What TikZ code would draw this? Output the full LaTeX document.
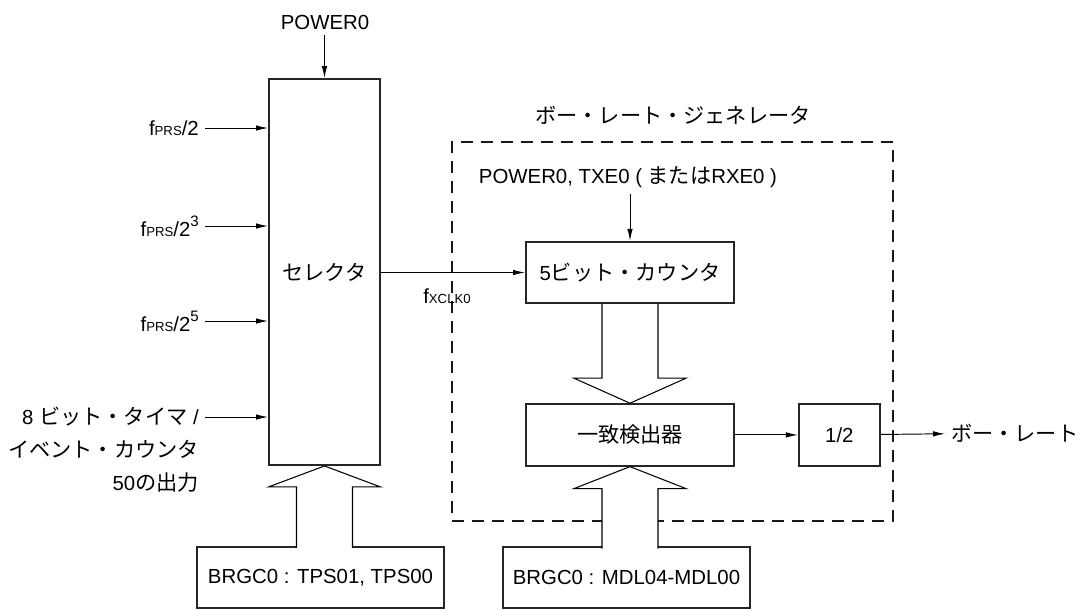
\documentclass[tikz,border=0pt]{standalone}
\usepackage{fontspec}
\setmainfont{Liberation Sans}
\newfontfamily\jp[Scale=1.04]{Noto Sans CJK JP}
\usepackage{tikz}
\usetikzlibrary{positioning,arrows.meta,calc}
\newcommand{\idx}[1]{{\fontsize{7.5}{8}\selectfont #1}}
\newcommand{\pw}[1]{\raisebox{0.5em}{\fontsize{8.6}{9}\selectfont #1}}

\begin{document}
\begin{tikzpicture}[x=0.02cm, y=-0.02cm, >={Latex[length=2.4mm,width=1.1mm]}, every node/.style={font=\fontsize{11.6}{18.8}\selectfont}, s/.style={draw=black!85, line width=1.1pt, inner sep=0pt, minimum height=1.23cm}, a/.style={->, line width=0.55pt}, h/.style={draw=black, line width=0.6pt, fill=white}]
\useasboundingbox (0,0) rectangle (1083,610);
\node[draw=black!90, line width=1.5pt, dash pattern=on 0.24cm off 0.16cm, inner sep=0pt, minimum width=8.82cm, minimum height=7.58cm] (brg) at (672.5,331.5) {};
\node (ttl) at (673,115) {\jp ボー・レート・ジェネレータ};
\node[s, minimum width=2.22cm, minimum height=7.72cm] (sel) at (324.5,272) {\jp セレクタ};
\node[s, minimum width=4.16cm] (cnt) at (630,272.5) {5{\jp ビット・カウンタ}};
\node[s, minimum width=4.16cm, below=1.98cm of cnt] (cmp) {\jp 一致検出器};
\node[s, minimum width=1.62cm, right=1.26cm of cmp] (half) {1/2};
\node[s, minimum width=4.94cm] (tps) at (320.5,577.5) {BRGC0 : TPS01, TPS00};
\node[s, minimum width=4.94cm] (mdl) at (626.5,577.5) {BRGC0 : MDL04-MDL00};
\node (pwr) at (325,22) {POWER0};
\node (en) at (628,177) {POWER0, TXE0 ( {\jp または}RXE0 )};
\node[anchor=east] (p1) at (205,128) {f\idx{PRS}/2};
\node[anchor=east] (p3) at (205,226) {f\idx{PRS}/2\pw{3}};
\node[anchor=east] (p5) at (205,321) {f\idx{PRS}/2\pw{5}};
\node[anchor=east, align=right] (tmr) at (205,450) {8 {\jp ビット・タイマ} /\\{\jp イベント・カウンタ}\\50{\jp の出力}};
\coordinate (tin) at ($(tmr.east)+(0,-33)$);
\node (fx) at (447,296) {f\idx{XCLK0}};
\node[anchor=west] (out) at (945,433) {\jp ボー・レート};
% signal lines
\draw[a] (pwr.south -| sel.north) -- (sel.north);
\draw[a] (p1) -- (p1 -| sel.west); \draw[a] (p3) -- (p3 -| sel.west); \draw[a] (p5) -- (p5 -| sel.west); \draw[a] (tin) -- (tin -| sel.west);
\draw[a] (sel.east |- cnt) -- (cnt); \draw[a] (en.south -| cnt.north) -- (cnt.north);
\draw[a] (cmp) -- (half); \draw[a] (half) -- (out);
% wide arrows
\draw[h] ($(sel.south)+(-28,82)$) -- ++(0,-61) -- ++(-28,0) -- (sel.south) -- ++(56,21) -- ++(-28,0) -- ++(0,61);
\draw[h] ($(cnt.south)+(-28,0)$) -- ++(0,74) -- ++(-28,0) -- (cmp.north) -- ++(56,-25) -- ++(-28,0) -- ++(0,-74);
\draw[h] ($(cmp.south)+(-28,82)$) -- ++(0,-60) -- ++(-28,0) -- (cmp.south) -- ++(56,22) -- ++(-28,0) -- ++(0,60);
\end{tikzpicture}
\end{document}
